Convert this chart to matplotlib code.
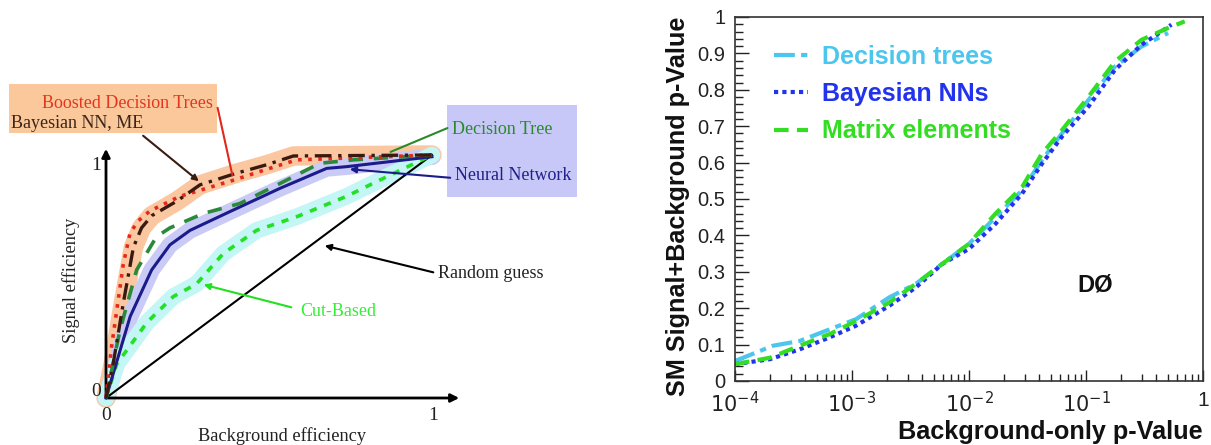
import numpy as np
import matplotlib
matplotlib.use("Agg")
import matplotlib.pyplot as plt
from matplotlib.patches import Rectangle

# ---------------- data: left panel (ROC curves) ----------------
bdt_x = [0, 0.017, 0.053, 0.074, 0.10, 0.135, 0.227, 0.40, 0.49, 0.585, 1.0]
bdt_y = [0, 0.21, 0.55, 0.68, 0.73, 0.77, 0.83, 0.90, 0.94, 0.98, 1.0]

bnn_x = [0, 0.022, 0.053, 0.084, 0.109, 0.14, 0.217, 0.288, 0.40, 0.493, 0.575, 1.0]
bnn_y = [0, 0.14, 0.39, 0.62, 0.70, 0.75, 0.81, 0.877, 0.925, 0.96, 0.996, 1.0]

nn_x = [0, 0.074, 0.14, 0.196, 0.258, 0.38, 0.534, 0.677, 0.738, 1.0]
nn_y = [0, 0.335, 0.527, 0.63, 0.69, 0.767, 0.863, 0.945, 0.952, 0.993]

dt_x = [0, 0.043, 0.094, 0.155, 0.196, 0.30, 0.41, 0.534, 0.656, 0.76, 1.0]
dt_y = [0, 0.28, 0.527, 0.664, 0.70, 0.76, 0.80, 0.883, 0.966, 0.98, 1.0]

cut_x = [0, 0.033, 0.125, 0.206, 0.278, 0.36, 0.462, 0.585, 0.738, 0.84, 1.0]
cut_y = [0, 0.14, 0.31, 0.417, 0.47, 0.595, 0.69, 0.746, 0.83, 0.897, 1.0]

rand_x = [0, 1]
rand_y = [0, 1]

# ---------------- data: right panel (p-value curves) ----------------
dtree_logp = [-4.0, -3.674, -3.447, -3.19, -2.965, -2.68, -2.454, -2.227, -2.0, -1.773,
              -1.546, -1.376, -1.206, -0.979, -0.752, -0.525, -0.298]
dtree_pv = [0.055, 0.097, 0.11, 0.142, 0.17, 0.23, 0.267, 0.322, 0.377, 0.45,
            0.524, 0.607, 0.68, 0.772, 0.864, 0.919, 0.956]

bnns_logp = [-4.0, -3.70, -3.447, -3.19, -2.965, -2.68, -2.454, -2.227, -2.0, -1.773,
             -1.546, -1.376, -1.206, -0.979, -0.752, -0.525, -0.355, -0.27]
bnns_pv = [0.046, 0.06, 0.087, 0.12, 0.152, 0.207, 0.257, 0.322, 0.363, 0.432,
           0.515, 0.597, 0.671, 0.754, 0.855, 0.924, 0.96, 0.979]

me_logp = [-4.0, -3.70, -3.447, -3.19, -2.965, -2.68, -2.454, -2.227, -2.0, -1.773,
           -1.546, -1.376, -1.206, -0.979, -0.752, -0.525, -0.298, -0.156]
me_pv = [0.046, 0.064, 0.097, 0.129, 0.165, 0.216, 0.267, 0.322, 0.377, 0.46,
         0.533, 0.625, 0.689, 0.781, 0.878, 0.9375, 0.97, 0.988]

legend_labels = ["Decision trees", "Bayesian NNs", "Matrix elements"]
ytick_vals = [0, 0.1, 0.2, 0.3, 0.4, 0.5, 0.6, 0.7, 0.8, 0.9, 1]
ytick_labels = ["0", "0.1", "0.2", "0.3", "0.4", "0.5", "0.6", "0.7", "0.8", "0.9", "1"]
xtick_vals = [1e-4, 1e-3, 1e-2, 1e-1, 1]
xtick_labels = [r"$10^{-4}$", r"$10^{-3}$", r"$10^{-2}$", r"$10^{-1}$", "1"]

W, H = 1211, 445
fig = plt.figure(figsize=(W / 100, H / 100), dpi=100)

# ================= LEFT PANEL =================
serif = "Liberation Serif"
# pixel mapping: data x=0 -> px 106, x=1 -> px 432 ; data y=0 -> py 398, y=1 -> py 155
X0, SX = 106, 326
Y0, SY = 398, 243
axL = fig.add_axes([0, 0, 600 / W, 1])
axL.set_xlim(-X0 / SX, (600 - X0) / SX)
axL.set_ylim((Y0 - H) / SY, Y0 / SY)
axL.axis("off")


def P(px, py):
    return ((px - X0) / SX, (Y0 - py) / SY)


# bands
axL.plot(bnn_x, bnn_y, color="#fbc7a0", lw=14, solid_joinstyle="round", solid_capstyle="round", zorder=1)
axL.plot(nn_x, nn_y, color="#cacaf6", lw=12, solid_joinstyle="round", solid_capstyle="round", zorder=1)
axL.plot(cut_x, cut_y, color="#c4f6f6", lw=12, solid_joinstyle="round", solid_capstyle="round", zorder=1)

# random guess
axL.plot(rand_x, rand_y, color="black", lw=1.5, zorder=3)
# curves
axL.plot(cut_x, cut_y, color="#22e022", lw=2.6, ls=(0, (2, 2.2)), zorder=4)
axL.plot(nn_x, nn_y, color="#1b1b8c", lw=2.2, zorder=4)
axL.plot(dt_x, dt_y, color="#2a8a3a", lw=2.6, ls=(0, (4, 3)), zorder=5)
axL.plot(bdt_x, bdt_y, color="#e8271c", lw=2.6, ls=(0, (1, 1.8)), zorder=5)
axL.plot(bnn_x, bnn_y, color="#3a1a10", lw=2.4, ls=(0, (5, 2, 1, 2)), zorder=6)

# axes arrows
axL.annotate("", xy=P(106, 146), xytext=P(106, 399),
             arrowprops=dict(arrowstyle="-|>", color="black", lw=2, mutation_scale=12))
axL.annotate("", xy=P(462, 398), xytext=P(105, 398),
             arrowprops=dict(arrowstyle="-|>", color="black", lw=2, mutation_scale=12))

tk = dict(family=serif, fontsize=14, color="#222222", ha="center", va="center")
axL.text(*P(96, 392), "0", **tk)
axL.text(*P(96, 166), "1", **tk)
axL.text(*P(106, 416), "0", **tk)
axL.text(*P(433, 415), "1", **tk)
axL.text(*P(71, 280), "Signal efficiency", family=serif, fontsize=13.2, rotation=90,
         ha="center", va="center", color="#222222")
axL.text(*P(282, 436), "Background efficiency", family=serif, fontsize=13.2,
         ha="center", va="center", color="#222222")

# annotation boxes
bx0, by0 = P(9, 133)
bx1, by1 = P(217, 84)
axL.add_patch(Rectangle((bx0, by0), bx1 - bx0, by1 - by0, facecolor="#fbc89c", edgecolor="none", zorder=2))
bx0, by0 = P(447, 197)
bx1, by1 = P(577, 105)
axL.add_patch(Rectangle((bx0, by0), bx1 - bx0, by1 - by0, facecolor="#c8c8f8", edgecolor="none", zorder=2))

lab = dict(family=serif, fontsize=13, va="center", zorder=7)
axL.text(*P(213, 104), "Boosted Decision Trees", color="#e2371f", ha="right", **lab)
axL.text(*P(11, 124), "Bayesian NN, ME", color="#3b2518", ha="left", **lab)
axL.text(*P(452, 129), "Decision Tree", color="#2a8a2a", ha="left", **lab)
axL.text(*P(455, 176), "Neural Network", color="#20208a", ha="left", **lab)
axL.text(*P(438, 274), "Random guess", color="#222222", ha="left", **lab)
axL.text(*P(300, 311), "Cut-Based", color="#33ee33", ha="left", **lab)

# pointer lines
axL.annotate("", xy=P(233, 178), xytext=P(217, 105),
             arrowprops=dict(arrowstyle="-", color="#e2271c", lw=1.5), zorder=7)
axL.annotate("", xy=P(201, 183), xytext=P(141, 134),
             arrowprops=dict(arrowstyle="-|>", color="#3b1c10", lw=1.5, mutation_scale=9), zorder=7)
axL.annotate("", xy=P(388, 153), xytext=P(450, 127),
             arrowprops=dict(arrowstyle="-", color="#2a8a2a", lw=1.5), zorder=7)
axL.annotate("", xy=P(347, 169), xytext=P(453, 178),
             arrowprops=dict(arrowstyle="-|>", color="#1b1b8c", lw=1.5, mutation_scale=9), zorder=7)
axL.annotate("", xy=P(322, 245), xytext=P(436, 273),
             arrowprops=dict(arrowstyle="-|>", color="black", lw=1.5, mutation_scale=9), zorder=7)
axL.annotate("", xy=P(201, 284), xytext=P(294, 308),
             arrowprops=dict(arrowstyle="-|>", color="#22e022", lw=1.5, mutation_scale=9), zorder=7)

# ================= RIGHT PANEL =================
sans = "Liberation Sans"
axR = fig.add_axes([735 / W, (H - 381) / H, (1203 - 735) / W, (381 - 17) / H])
axR.set_xscale("log")
axR.set_xlim(1e-4, 1)
axR.set_ylim(0, 1)

c_dt, c_bnn, c_me = "#4cc6ee", "#2233ee", "#33dd22"
axR.plot(10 ** np.array(dtree_logp), dtree_pv, color=c_dt, lw=3, ls=(0, (5, 1.5, 1.5, 1.5)),
         label=legend_labels[0])
axR.plot(10 ** np.array(bnns_logp), bnns_pv, color=c_bnn, lw=3, ls=(0, (1, 1)),
         label=legend_labels[1])
axR.plot(10 ** np.array(me_logp), me_pv, color=c_me, lw=3, ls=(0, (3.5, 2)),
         label=legend_labels[2])

axR.set_yticks(ytick_vals)
axR.set_yticklabels(ytick_labels)
axR.set_yticks(np.arange(0, 1.0001, 0.02), minor=True)
axR.set_xticks(xtick_vals)
axR.set_xticklabels(xtick_labels)
axR.xaxis.set_minor_locator(matplotlib.ticker.LogLocator(base=10, subs=np.arange(2, 10)))
axR.xaxis.set_minor_formatter(matplotlib.ticker.NullFormatter())

axR.tick_params(axis="y", which="major", direction="in", length=10, width=1, labelsize=14.5,
                pad=7, colors="#222222")
axR.tick_params(axis="y", which="minor", direction="in", length=5.5, width=1, colors="#222222")
axR.tick_params(axis="x", which="major", direction="in", length=8, width=1, labelsize=15,
                pad=7, colors="#222222")
axR.tick_params(axis="x", which="minor", direction="in", length=5, width=1, colors="#222222")
for t in axR.get_xticklabels() + axR.get_yticklabels():
    t.set_family(sans)
for s in axR.spines.values():
    s.set_color("#333333")
    s.set_linewidth(1.2)

axR.set_xlabel("Background-only p-Value", family=sans, fontsize=18.2, fontweight="bold",
               loc="right", labelpad=3, color="#111111")
axR.set_ylabel("SM Signal+Background p-Value", family=sans, fontsize=18.2, fontweight="bold",
               loc="top", labelpad=5, color="#111111")

leg = axR.legend(loc="upper left", bbox_to_anchor=(0.036, 0.985), frameon=False,
                 prop=dict(family=sans, size=18, weight="bold"), handlelength=1.35,
                 handletextpad=0.55, labelspacing=0.53)
for txt, col in zip(leg.get_texts(), [c_dt, c_bnn, c_me]):
    txt.set_color(col)

axR.text(0.12, 0.265, "DØ", family=sans, fontsize=17, fontweight="bold", color="#111111",
         ha="center", va="center", transform=axR.transData)

fig.savefig("out.png", dpi=100)
